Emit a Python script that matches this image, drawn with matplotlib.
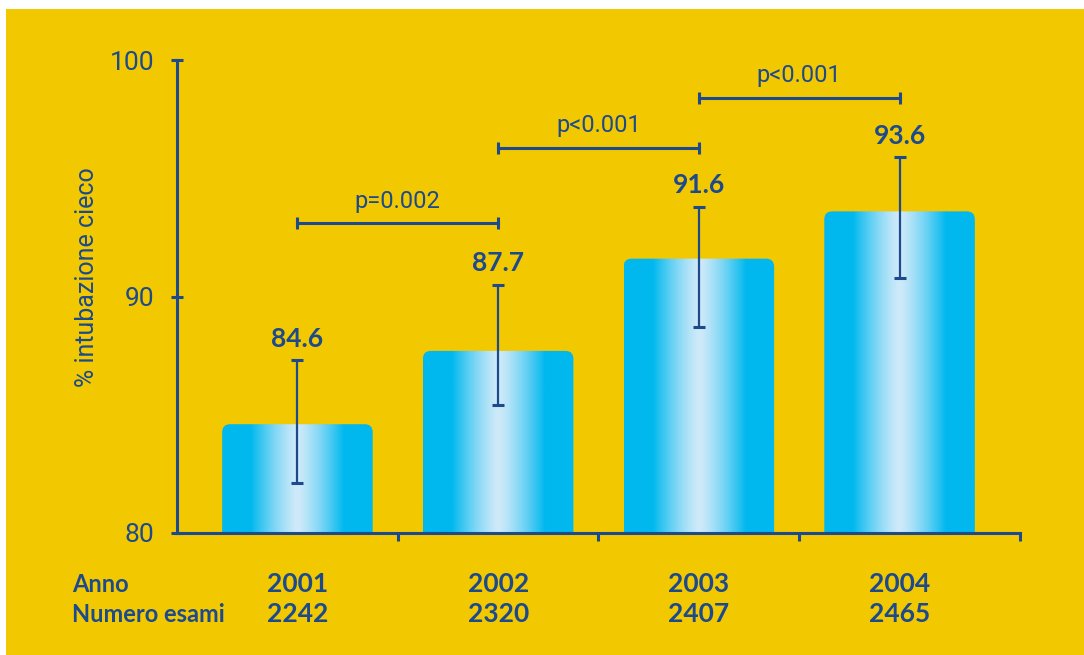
import numpy as np
import matplotlib.pyplot as plt
from matplotlib.patches import FancyBboxPatch, Rectangle
from matplotlib.colors import to_rgb
import matplotlib.transforms as mtransforms

# dati
anni = ['2001', '2002', '2003', '2004']
numero_esami = ['2242', '2320', '2407', '2465']
valori = [84.6, 87.7, 91.6, 93.6]
ic_basso = [82.1, 85.4, 88.7, 90.8]
ic_alto = [87.3, 90.5, 93.8, 95.9]
confronti_da = [0, 1, 2]
confronti_a = [1, 2, 3]
confronti_p = ['p=0.002', 'p<0.001', 'p<0.001']
confronti_y = [93.1, 96.3, 98.4]

BLU = '#1d4a8c'
GIALLO = '#f2c800'
CIANO = '#00b8ee'
CHIARO = '#cfeaf9'
LIGHT = ['Roboto', 'DejaVu Sans']
BOLD = ['Lato', 'DejaVu Sans']

fig = plt.figure(figsize=(10.84, 6.55), dpi=100)
fig.patch.set_facecolor('white')
fig.add_artist(Rectangle((6 / 1084, 0), 1, 1 - 9 / 655, transform=fig.transFigure,
                         facecolor=GIALLO, edgecolor='none', zorder=0))

ax = fig.add_axes([177 / 1084, 1 - 533 / 655, 843 / 1084, 473 / 655])
ax.set_facecolor('none')

# gradiente orizzontale delle barre
t = np.linspace(0, 1, 300)
d = np.abs(t - 0.5) * 2
s = np.clip(d / 0.62, 0, 1) ** 1.3
grad = np.array(to_rgb(CHIARO))[None, :] * (1 - s[:, None]) + np.array(to_rgb(CIANO))[None, :] * s[:, None]
img = grad[None, :, :]

larghezza = 0.75
x = np.arange(len(valori))
for i, v in enumerate(valori):
    x0 = x[i] - larghezza / 2
    patch = FancyBboxPatch((x0, 79), larghezza, v - 79,
                           boxstyle='round,pad=0,rounding_size=0.04',
                           mutation_aspect=8.5, facecolor='none', edgecolor='none')
    ax.add_patch(patch)
    im = ax.imshow(img, extent=[x0, x0 + larghezza, 79, v], aspect='auto', zorder=1)
    im.set_clip_path(patch)

# barre di errore
valori_arr = np.array(valori)
yerr = [valori_arr - np.array(ic_basso), np.array(ic_alto) - valori_arr]
ax.errorbar(x, valori, yerr=yerr, fmt='none', ecolor=BLU, elinewidth=1.6,
            capsize=4.5, capthick=2.2, zorder=3)

for i, v in enumerate(valori):
    ax.text(x[i], ic_alto[i] + 0.9, f'{v:.1f}', ha='center', va='center',
            fontsize=19, fontweight='bold', color=BLU, family=BOLD, zorder=4)

# confronti
for a, b, p, yy in zip(confronti_da, confronti_a, confronti_p, confronti_y):
    ax.plot([x[a], x[b]], [yy, yy], color=BLU, lw=2.2, zorder=3, clip_on=False)
    ax.plot([x[a], x[b]], [yy, yy], ls='none', marker='|', ms=8, mew=2.2,
            color=BLU, zorder=3, clip_on=False)
    ax.text((x[a] + x[b]) / 2, yy + 0.45, p, ha='center', va='bottom',
            fontsize=17, color=BLU, family=LIGHT)

ax.set_xlim(-0.6, 3.6)
ax.set_ylim(80, 100)

for lato in ['top', 'right']:
    ax.spines[lato].set_visible(False)
for lato in ['left', 'bottom']:
    ax.spines[lato].set_color(BLU)
    ax.spines[lato].set_linewidth(2.2)
ax.spines['left'].set_zorder(5)
ax.spines['bottom'].set_zorder(5)

ax.set_yticks([80, 90, 100])
ax.set_yticklabels(['80', '90', '100'], family=LIGHT)
ax.tick_params(axis='y', direction='inout', length=9, width=2.2, color=BLU,
               labelsize=19, labelcolor=BLU, pad=12)
ax.set_xticks([0.5, 1.5, 2.5, 3.6])
ax.set_xticklabels([])
ax.tick_params(axis='x', direction='out', length=6, width=2.2, color=BLU)

ax.set_ylabel('% intubazione cieco', fontsize=18, color=BLU, family=LIGHT)
ax.yaxis.set_label_coords(-0.093, 0.54)

# righe sotto l'asse
trans = mtransforms.blended_transform_factory(ax.transData, fig.transFigure)
y_anno = 1 - 584 / 655
y_esami = 1 - 614 / 655
fig.text(72 / 1084, y_anno, 'Anno', ha='left', va='center', fontsize=17,
         fontweight='bold', color=BLU, family=BOLD)
fig.text(72 / 1084, y_esami, 'Numero esami', ha='left', va='center', fontsize=17,
         fontweight='bold', color=BLU, family=BOLD)
for i in range(len(anni)):
    ax.text(x[i], y_anno, anni[i], transform=trans, ha='center', va='center',
            fontsize=19, fontweight='bold', color=BLU, family=BOLD)
    ax.text(x[i], y_esami, numero_esami[i], transform=trans, ha='center', va='center',
            fontsize=19, fontweight='bold', color=BLU, family=BOLD)

fig.savefig('out.png', dpi=100, facecolor=fig.get_facecolor())
